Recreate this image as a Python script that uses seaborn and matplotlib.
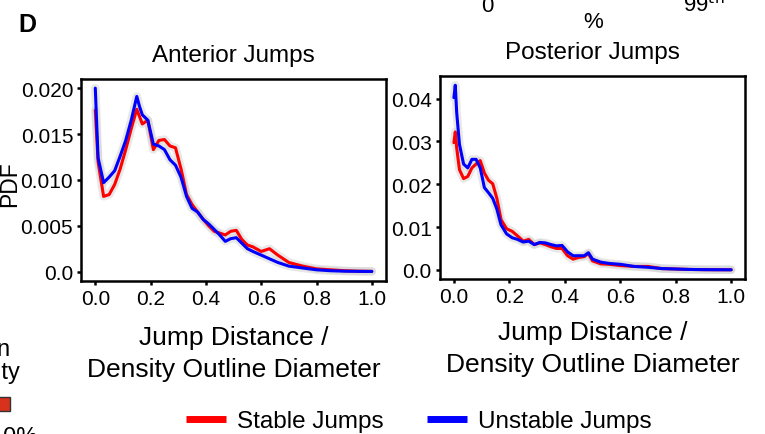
import matplotlib.pyplot as plt
import numpy as np
import pandas as pd
import seaborn as sns
from matplotlib.lines import Line2D
from matplotlib.patches import Rectangle

# x positions (jump distance / density outline diameter)
ant_x = [0.0, 0.01, 0.03, 0.05, 0.07, 0.09, 0.11, 0.13, 0.15, 0.16, 0.17, 0.19,
         0.21, 0.23, 0.25, 0.27, 0.29, 0.31, 0.33, 0.35, 0.37, 0.39, 0.41, 0.43,
         0.45, 0.47, 0.49, 0.51, 0.53, 0.55, 0.57, 0.60, 0.63, 0.66, 0.70, 0.75,
         0.80, 0.85, 0.90, 0.95, 1.0]
ant_stable = [0.0176, 0.0120, 0.0082, 0.0084, 0.0095, 0.0112, 0.0133, 0.0156, 0.0177, 0.0169,
              0.0161, 0.0165, 0.0133, 0.0143, 0.0144, 0.0137, 0.0135, 0.0112, 0.0084, 0.0073,
              0.0065, 0.0057, 0.0050, 0.0044, 0.0042, 0.0040, 0.0044, 0.0045, 0.0035, 0.0029,
              0.0027, 0.0022, 0.0025, 0.0018, 0.0010, 0.0006, 0.0003, 0.0002, 0.0001, 0.00005,
              0.00003]
ant_unstable = [0.0200, 0.0124, 0.0097, 0.0103, 0.0110, 0.0126, 0.0143, 0.0165, 0.0191, 0.0180,
                0.0171, 0.0165, 0.0139, 0.0137, 0.0133, 0.0122, 0.0116, 0.0103, 0.0082, 0.0069,
                0.0065, 0.0057, 0.0052, 0.0046, 0.0040, 0.0033, 0.0036, 0.0037, 0.0031, 0.0025,
                0.0022, 0.0018, 0.0014, 0.0010, 0.0006, 0.0004, 0.0002, 0.0001, 0.00005, 0.00003,
                0.00002]

post_x = [0.0, 0.005, 0.01, 0.02, 0.035, 0.05, 0.065, 0.08, 0.095, 0.11, 0.125, 0.14,
          0.155, 0.17, 0.19, 0.21, 0.23, 0.25, 0.27, 0.29, 0.31, 0.33, 0.35, 0.37,
          0.39, 0.41, 0.43, 0.45, 0.47, 0.485, 0.50, 0.53, 0.56, 0.60, 0.65, 0.70,
          0.75, 0.80, 0.85, 0.90, 0.95, 1.0]
post_stable = [0.0297, 0.0322, 0.0285, 0.0234, 0.0213, 0.0218, 0.0238, 0.0247, 0.0255, 0.0226,
               0.0209, 0.0201, 0.0167, 0.0117, 0.0096, 0.0090, 0.0079, 0.0067, 0.0071, 0.0059,
               0.0063, 0.0059, 0.0054, 0.0050, 0.0050, 0.0033, 0.0025, 0.0029, 0.0031, 0.0038,
               0.0021, 0.0014, 0.0013, 0.0010, 0.0008, 0.0008, 0.0003, 0.0002, 0.0001, 0.00005,
               0.00003, 0.00002]
post_unstable = [0.0402, 0.0431, 0.0368, 0.0293, 0.0247, 0.0238, 0.0258, 0.0258, 0.0238, 0.0192,
                 0.0180, 0.0167, 0.0142, 0.0105, 0.0084, 0.0075, 0.0071, 0.0065, 0.0067, 0.0059,
                 0.0064, 0.0063, 0.0059, 0.0056, 0.0057, 0.0042, 0.0033, 0.0033, 0.0033, 0.0040,
                 0.0025, 0.0018, 0.0015, 0.0013, 0.0008, 0.0006, 0.0003, 0.0002, 0.0001, 0.00005,
                 0.00003, 0.00002]

titles = ["Anterior Jumps", "Posterior Jumps"]
series_names = ["Stable Jumps", "Unstable Jumps"]
colors = {"Stable Jumps": "#ff0000", "Unstable Jumps": "#0000ff"}

sns.set_theme(style="ticks")
plt.rcParams["font.family"] = ["Liberation Sans", "DejaVu Sans"]
plt.rcParams["axes.linewidth"] = 1.8
plt.rcParams["text.color"] = "black"
plt.rcParams["axes.labelcolor"] = "black"
plt.rcParams["xtick.color"] = "black"
plt.rcParams["ytick.color"] = "black"

fig = plt.figure(figsize=(7.65, 4.35), dpi=100)
ax1 = fig.add_axes([0.1065, 0.3526, 0.3976, 0.4635])
ax2 = fig.add_axes([0.5752, 0.3563, 0.3987, 0.4667])

panels = [(ax1, ant_x, ant_stable, ant_unstable), (ax2, post_x, post_stable, post_unstable)]
for i, (ax, xs, st, un) in enumerate(panels):
    df = pd.DataFrame({"x": xs * 2, "pdf": st + un,
                       "kind": [series_names[0]] * len(xs) + [series_names[1]] * len(xs)})
    # grey band behind each curve
    for name in series_names:
        sub = df[df["kind"] == name]
        sns.lineplot(data=sub, x="x", y="pdf", ax=ax, color="#cccccc", lw=6,
                     alpha=0.45, estimator=None, sort=False, legend=False)
    for name in series_names:
        sub = df[df["kind"] == name]
        sns.lineplot(data=sub, x="x", y="pdf", ax=ax, color=colors[name], lw=2.2,
                     estimator=None, sort=False, legend=False)
    ax.set_title(titles[i], fontsize=17.5, pad=13)
    ax.set_xlabel("Jump Distance /\nDensity Outline Diameter", fontsize=19,
                  linespacing=1.45, labelpad=12 if i == 0 else 9.5)
    ax.set_ylabel("")
    ax.set_xticks([0.0, 0.2, 0.4, 0.6, 0.8, 1.0])
    ax.tick_params(labelsize=15, length=3, width=1.8, pad=3)
    for s in ax.spines.values():
        s.set_color("black")

ax1.set_yticks([0.0, 0.005, 0.010, 0.015, 0.020])
ax1.set_yticklabels(["0.0", "0.005", "0.010", "0.015", "0.020"])
ax2.set_yticks([0.0, 0.01, 0.02, 0.03, 0.04])
ax2.set_yticklabels(["0.0", "0.01", "0.02", "0.03", "0.04"])
# y label placed by hand so it sits against the tick labels as in the original
fig.text(10 / 765, 1 - 184 / 435, "PDF", fontsize=16.5, rotation=90, ha="center", va="center")

# panel label and fragments of neighbouring panels
fig.text(27 / 765, 1 - 25 / 435, "D", fontsize=18, fontweight="bold", ha="center", va="center")
fig.text(487 / 765, 1 - 6 / 435, "0", fontsize=16, ha="center", va="center")
fig.text(593 / 765, 1 - 22 / 435, "%", fontsize=16, ha="center", va="center")
fig.text(704 / 765, 1 - 5 / 435, "99$^{\\mathrm{th}}$", fontsize=16, ha="center", va="center")
fig.text(10 / 765, 1 - 350 / 435, "Mean", fontsize=17, ha="right", va="center")
fig.text(20 / 765, 1 - 373 / 435, "Density", fontsize=17, ha="right", va="center")
fig.text(38 / 765, 1 - 438 / 435, "10%", fontsize=17, ha="right", va="center")
fig.patches.append(Rectangle((-5 / 765, 1 - 412 / 435), 15 / 765, 14 / 435,
                             transform=fig.transFigure, facecolor="#d8321c",
                             edgecolor="#333333", lw=1))

handles = [Line2D([], [], color=colors[n], lw=5, solid_capstyle="butt") for n in series_names]
fig.legend(handles, series_names, loc="center", bbox_to_anchor=(419 / 765, 1 - 422 / 435),
           ncol=2, frameon=False, fontsize=17.5, handlelength=1.65, handletextpad=0.45,
           columnspacing=1.8)

fig.savefig("out.png", dpi=100)
